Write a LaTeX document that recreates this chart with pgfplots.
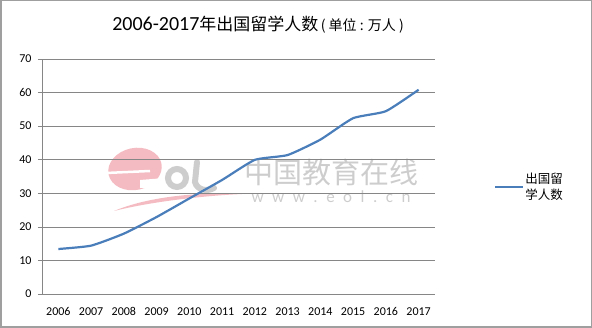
\documentclass[border=0pt]{standalone}
\usepackage{pgfplots}
\pgfplotsset{compat=1.18}
\usepackage{fontspec}
\setmainfont{Carlito}
\newfontfamily\cjk{Noto Sans CJK SC}
\definecolor{linecol}{RGB}{74,126,187}
\definecolor{gridcol}{RGB}{134,134,134}
\definecolor{wmpink}{RGB}{244,188,194}
\definecolor{wmgrey}{RGB}{205,205,205}
\begin{document}
\begin{tikzpicture}[x=1pt,y=1pt]
\useasboundingbox (0,0) rectangle (592,328);
\draw[gray!75, line width=1.5pt] (0.75,0.75) rectangle (591.25,327.25);
% title
\node[anchor=center] at (258,303) {\fontsize{20}{23}\selectfont 2006-2017\cjk\fontsize{17}{20}\selectfont 年出国留学人数\fontsize{14}{16}\selectfont\,( 单位 : 万人 )};
% watermark logo
\fill[wmpink, rotate around={12:(135,159)}] (135,159) ellipse (27 and 21);
\draw[white, line width=2.5pt] (106,155) -- (150,157);
\fill[white] (140,148) -- (165,150) -- (165,140) -- (140,140) -- cycle;
\fill[wmpink] (114,117) .. controls (150,132) and (200,136) .. (242,134) .. controls (200,132) and (150,126) .. (114,117) -- cycle;
\draw[wmgrey, line width=6pt] (177,150) ellipse (9 and 9);
\draw[wmgrey, line width=6pt, line cap=round] (197,166) -- (195,146) .. controls (197,138) and (207,136) .. (214,140);
% watermark text
\node[anchor=center, text=wmgrey] at (331,156) {\cjk\fontsize{29}{32}\selectfont 中国教育在线};
\node[anchor=center, text=wmgrey] at (331,131) {\fontsize{17}{20}\selectfont w\,\,\,w\,\,\,w\,\,\,.\,\,\,e\,\,\,o\,\,\,l\,\,\,.\,\,\,c\,\,\,n};
\begin{axis}[
  at={(42pt,34pt)}, anchor=south west,
  width=393pt, height=235pt, scale only axis,
  xmin=-0.5, xmax=11.5, ymin=0, ymax=70,
  ytick={0,10,...,70},
  xtick={0,...,11},
  xticklabels={2006,2007,2008,2009,2010,2011,2012,2013,2014,2015,2016,2017},
  major x tick style={draw=none},
  extra x ticks={-0.5,0.5,...,11.5},
  extra x tick labels={},
  extra x tick style={major tick length=4pt, tick style={draw=gridcol, line width=0.6pt}, grid=none},
  tick align=outside,
  major tick length=4pt,
  axis x line*=bottom, axis y line*=left,
  axis line style={draw=gridcol, line width=0.6pt, -},
  y tick style={draw=gridcol, line width=0.6pt},
  ymajorgrids, grid style={draw=gridcol, line width=0.6pt},
  ticklabel style={font=\fontsize{12}{14}\selectfont, text=black},
  /pgf/number format/assume math mode=true,
  xticklabel style={anchor=north, text height=8.5pt, text depth=0pt, yshift=-5pt},
  yticklabel style={xshift=-3pt},
  legend style={at={(1.15,0.455)}, anchor=west, draw=none, fill=none, inner sep=0pt,
    nodes={align=left, font=\cjk\fontsize{12.5}{16.5}\selectfont, inner sep=1pt}},
  legend image code/.code={\draw[#1, line width=2.2pt] (0pt,0pt) -- (28pt,0pt);},
  clip=false,
]
\addplot[color=linecol, line width=2.2pt, smooth, tension=0.3] coordinates {
(0,13.4) (1,14.4) (2,17.98) (3,22.93) (4,28.47) (5,33.97) (6,39.96) (7,41.39) (8,45.98) (9,52.37) (10,54.45) (11,60.84)};
\addlegendentry{出国留\\学人数}
\end{axis}
\end{tikzpicture}
\end{document}
